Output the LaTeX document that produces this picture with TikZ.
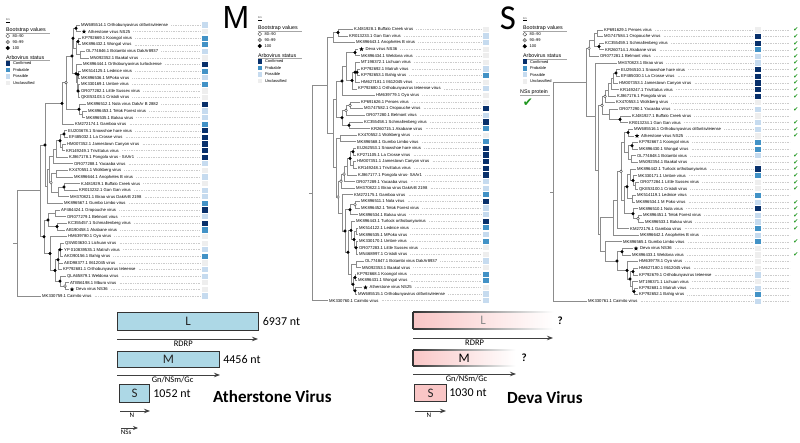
\documentclass[tikz,border=0pt]{standalone}
\usepackage{fontspec}
\setmainfont{Liberation Sans}
\newfontfamily\calfont{Carlito}
\newfontfamily\symfont{DejaVu Sans}
\usetikzlibrary{calc,positioning,shapes.geometric,arrows.meta}
\definecolor{confd}{HTML}{08306B}
\definecolor{probd}{HTML}{4292C6}
\definecolor{possd}{HTML}{C6DBEF}
\definecolor{uncld}{HTML}{EEEEEE}
\definecolor{branchgray}{HTML}{8C8C8C}
\definecolor{segblue}{HTML}{ADD8E6}
\definecolor{segpink}{HTML}{F9C6C6}
\definecolor{tickgreen}{HTML}{1E961E}
\tikzset{
  br/.style={draw=branchgray, line width=0.75pt},
  lab/.style={anchor=west, inner sep=0pt, font=\fontsize{4.2}{4.2}\selectfont},
  sq/.style={minimum size=5.2pt, inner sep=0pt, draw=none},
  lead/.style={draw=gray!40, line width=0.5pt, dash pattern=on 0.4pt off 1.3pt},
  bs100/.style={circle, fill=black, draw=black, minimum size=2.8pt, inner sep=0pt, line width=0.3pt},
  bs95/.style={circle, fill=gray!70, draw=gray!80!black, minimum size=2.8pt, inner sep=0pt, line width=0.3pt},
  bs85/.style={circle, fill=white, draw=gray!60!black, minimum size=2.8pt, inner sep=0pt, line width=0.4pt},
  starmk/.style={star, star points=5, star point ratio=2.3, fill=black, minimum size=4.6pt, inner sep=0pt},
  legt/.style={anchor=west, inner sep=0pt, font=\fontsize{5.3}{5.3}\selectfont},
  legs/.style={anchor=west, inner sep=0pt, font=\fontsize{4}{4}\selectfont},
  legrule/.style={draw=gray!70, line width=0.4pt},
  tick/.style={inner sep=0pt, text=tickgreen, font=\symfont\fontsize{6}{6}\selectfont},
  segA/.style={draw=black!80, line width=1.1pt, fill=segblue, inner sep=0pt, anchor=north west, font=\calfont\fontsize{13}{13}\selectfont, text=black!85},
  segD/.style={draw=none, left color=segpink, right color=white, inner sep=0pt, anchor=north west, font=\calfont\fontsize{13}{13}\selectfont},
  ntlab/.style={anchor=west, inner sep=0pt, font=\calfont\fontsize{12}{12}\selectfont},
  orf/.style={draw=black!75, line width=0.9pt, -{Stealth[length=6pt,width=4.5pt]}},
  orflab/.style={below=1.2pt, inner sep=0pt, font=\calfont\fontsize{8.5}{8.5}\selectfont},
  virlab/.style={anchor=west, inner sep=0pt, font=\calfont\bfseries\fontsize{17}{17}\selectfont}
}
% clade: name, x, first child, last child
\newcommand\clade[4]{%
  \path let \p1=($(#3)!.5!(#4)$) in coordinate (#1) at (#2pt,\y1);
  \draw[br] (#1) |- (#3);
  \draw[br] (#1) |- (#4);}

\begin{document}
\begin{tikzpicture}[x=1pt, y=-1pt]
\fill[white] (0,0) rectangle (800,443);
\useasboundingbox (0,0) rectangle (800,443);

% legends
\foreach \lx/\ly/\ln in {6/30/la,258/28/lb,523/28.3/lc}{
  \begin{scope}[shift={(\lx,\ly)}]
    \node[inner sep=0pt, anchor=west, font=\fontsize{2.6}{2.6}\selectfont] (\ln sc) at (0,-10) {0.1};
    \draw[line width=0.3pt] (0,-8) -- (3.5,-8);
    \node[legt] (\ln h1) at (0,0) {Bootstrap values};
    \draw[legrule] (0,3) -- (44,3);
    \node[bs85, minimum size=3.8pt] (\ln c1) at (1.8,6) {};
    \node[bs95, minimum size=3.8pt] (\ln c2) at (1.8,12) {};
    \node[bs100, minimum size=3.8pt] (\ln c3) at (1.8,18) {};
    \node[legs, right=2.5pt of \ln c1] (\ln c1t) {80--90};
    \node[legs, right=2.5pt of \ln c2] (\ln c2t) {90--99};
    \node[legs, right=2.5pt of \ln c3] (\ln c3t) {100};
    \node[legt] (\ln h2) at (0,27.5) {Arbovirus status};
    \draw[legrule] (0,30.5) -- (44,30.5);
    \foreach \k/\st/\tx in {0/confd/Confirmed,1/probd/Probable,2/possd/Possible,3/uncld/Unclassified}{
      \node[sq, minimum size=4.6pt, fill=\st] (\ln q\k) at (1.8,{33.5+6.5*\k}) {};
      \node[legs, right=2.5pt of \ln q\k] (\ln q\k t) {\tx};
    }
  \end{scope}
}
\node[legt] (nssh) at (520,92.5) {NSs protein};
\draw[legrule] (520,95.5) -- (550,95.5);
\node[inner sep=0pt, text=tickgreen, font=\symfont\fontsize{12}{12}\selectfont] (nssk) at (528,103) {✔};

\node[inner sep=0pt, font=\fontsize{32}{32}\selectfont] (bigM) at (236,17) {M};
\node[inner sep=0pt, font=\calfont\fontsize{35}{35}\selectfont] (bigS) at (508,18) {S};

% M tree
\foreach \i/\xx/\tx/\st in {
  1/79.5/{MW685514.1 Orthobunyavirus olifantsvleiense}/possd,
  2/80.5/{\hspace*{6pt}Atherstone virus NS25}/uncld,
  3/80.5/{KP792669.1 Koongol virus}/probd,
  4/80.5/{MK896432.1 Wongal virus}/probd,
  5/84.5/{OL774846.1 Botambi virus DakAr8937}/possd,
  6/88.5/{MN092352.1 Baakal virus}/uncld,
  7/81.5/{MK896444.1 Orthobunyavirus turlockense}/confd,
  8/80.5/{MK514125.1 Lednice virus}/probd,
  9/79.5/{MK896536.1 MPoko virus}/possd,
  10/79.5/{MK330169.1 Umbre virus}/probd,
  11/79.5/{OR077282.1 Little Sussex virus}/uncld,
  12/79.5/{QKE53103.1 Cristoli virus}/uncld,
  13/85.5/{MK896512.1 Nola virus DakAr B 2882}/confd,
  14/86.5/{MK896453.1 Telok Forest virus}/possd,
  15/84.5/{MK896535.1 Bakau virus}/possd,
  16/73.5/{KM272174.1 Gamboa virus}/probd,
  17/66.5/{EU203678.1 Snowshoe hare virus}/confd,
  18/67.5/{EF485032.1 La Crosse virus}/confd,
  19/65.5/{HM007352.1 Jamestown Canyon virus}/confd,
  20/64.5/{KR149249.1 Trivittatus virus}/confd,
  21/67.5/{KJ867178.1 Pongola virus - SAAr1}/confd,
  22/72.5/{OR077288.1 Yacaaba virus}/possd,
  23/67.5/{KX470551.1 Wolkberg virus}/uncld,
  24/72.5/{MK896644.1 Anopheles B virus}/possd,
  25/79.5/{KJ481929.1 Buffalo Creek virus}/uncld,
  26/77.5/{KR013232.1 Gan Gan virus}/possd,
  27/68.5/{MH370821.1 Birao virus DakArB 2198}/possd,
  28/62.5/{MK896567.1 Gumbo Limbo virus}/probd,
  29/59.5/{AF484424.1 Oropouche virus}/confd,
  30/65.5/{OR077279.1 Belmont virus}/possd,
  31/66.5/{KC355457.1 Schmallenberg virus}/confd,
  32/64.5/{AB190458.1 Akabane virus}/probd,
  33/66.5/{HM639780.1 Oyo virus}/uncld,
  34/63.5/{QSW03630.1 Lichuan virus}/uncld,
  35/62.5/{YP 010839535.1 Matruh virus}/possd,
  36/62.5/{AKO90156.1 Bahig virus}/probd,
  37/62.5/{AED98377.1 Il612045 virus}/uncld,
  38/61.5/{KP792681.1 Orthobunyavirus teteense}/possd,
  39/65.5/{QLA65879.1 Weldona virus}/possd,
  40/68.5/{ATB56198.1 Mburo virus}/uncld,
  41/68.5/{\hspace*{6pt}Deva virus NS36}/uncld,
  42/40.5/{MK330759.1 Caimito virus}/possd}{
  \pgfmathsetmacro\yy{25+6.61*(\i-1)}
  \coordinate (a\i) at (\xx,\yy);
  \node[lab, right=1.5pt of a\i] (a\i t) {\tx};
  \node[sq, fill=\st] (a\i q) at (205,\yy) {};
  \draw[lead] ([xshift=3pt]a\i t.east) -- ([xshift=-2pt]a\i q.west);
}
\clade{an1}{76}{a1}{a2}
\clade{an2}{78}{a3}{a4}
\clade{an3}{80}{a5}{a6}
\clade{an4}{76}{an2}{an3}
\clade{an5}{73}{an1}{an4}
\clade{an6}{78}{a8}{a9}
\clade{an7}{78}{a10}{a12}
\draw[br] (an7) |- (a11);
\clade{an8}{77}{an6}{an7}
\clade{an9}{76}{a7}{an8}
\clade{an10}{72}{an5}{an9}
\clade{an11}{82}{a14}{a15}
\clade{an12}{79}{a13}{an11}
\clade{an13}{66}{an10}{an12}
\clade{an14}{62}{an13}{a16}
\clade{an15}{64}{a17}{a18}
\clade{an16}{62}{a19}{a20}
\clade{an17}{60}{an15}{an16}
\clade{an18}{56}{an17}{a21}
\clade{an19}{53}{an18}{a22}
\clade{an20}{56}{a23}{a24}
\clade{an21}{64}{a25}{a26}
\clade{an22}{58}{an21}{a27}
\clade{an23}{51}{an20}{an22}
\clade{an24}{49}{an19}{an23}
\clade{an25}{47}{an24}{a28}
\clade{an26}{45}{an14}{an25}
\clade{an27}{55}{a29}{a30}
\clade{an28}{57}{a31}{a32}
\clade{an29}{48}{an27}{an28}
\clade{an30}{60}{a34}{a36}
\draw[br] (an30) |- (a35);
\clade{an31}{58}{an30}{a38}
\draw[br] (an31) |- (a37);
\clade{an32}{65}{a40}{a41}
\clade{an33}{60}{a39}{an32}
\clade{an34}{55}{an31}{an33}
\clade{an35}{50}{a33}{an34}
\clade{an36}{44}{an29}{an35}
\clade{an37}{40}{an26}{an36}
\clade{an38}{17}{an37}{a42}
\draw[br] (an38) -- ++(-4,0);

% S tree
\foreach \i/\xx/\tx/\st in {
  1/352.5/{KJ481928.1 Buffalo Creek virus}/uncld,
  2/347.5/{KR013233.1 Gan Gan virus}/possd,
  3/354.5/{MK896643.1 Anopheles B virus}/possd,
  4/358/{\hspace*{6pt}Deva virus NS36}/uncld,
  5/359.5/{MK896434.1 Weldona virus}/uncld,
  6/359.5/{MT198372.1 Lichuan virus}/uncld,
  7/359.5/{KP792692.1 Matruh virus}/possd,
  8/359.5/{KP792653.1 Bahig virus}/probd,
  9/359.5/{HM627181.1 Il612045 virus}/uncld,
  10/356.5/{KP792680.1 Orthobunyavirus teteense virus}/possd,
  11/374.5/{HM639779.1 Oyo virus}/uncld,
  12/359.5/{KP691626.1 Peroes virus}/uncld,
  13/362.5/{MG747582.1 Oropouche virus}/confd,
  14/364.5/{OR077280.1 Belmont virus}/possd,
  15/362.5/{KC355458.1 Schmallenberg virus}/confd,
  16/369.5/{KR260715.1 Akabane virus}/probd,
  17/356.5/{KX470552.1 Wolkberg virus}/uncld,
  18/355.5/{MK896568.1 Gumbo Limbo virus}/probd,
  19/355.5/{EU262553.1 Snowshoe hare virus}/confd,
  20/355.5/{KP271105.1 La Crosse virus}/confd,
  21/355.5/{HM007351.1 Jamestown Canyon virus}/confd,
  22/356.5/{KR149248.1 Trivittatus virus}/confd,
  23/356.5/{KJ867177.1 Pongola virus- SAAr1}/confd,
  24/354.5/{OR077289.1 Yacaaba virus}/possd,
  25/354.5/{MH370822.1 Birao virus DakArB 2198}/possd,
  26/352.5/{KM272175.1 Gamboa virus}/probd,
  27/359.5/{MK896511.1 Nola virus}/confd,
  28/359.5/{MK896452.1 Telok Forest virus}/possd,
  29/357.5/{MK896534.1 Bakau virus}/possd,
  30/354.5/{MK896443.1 Turlock orthobunyavirus}/confd,
  31/357.5/{MK514122.1 Lednice virus}/probd,
  32/357.5/{MK896535.1 MPoko virus}/possd,
  33/357.5/{MK330170.1 Umbre virus}/probd,
  34/357.5/{OR077283.1 Little Sussex virus}/uncld,
  35/357.5/{MN468997.1 Cristoli virus}/uncld,
  36/363.5/{OL774847.1 Botambi virus DakAr8937}/possd,
  37/360.5/{MN092353.1 Baakal virus}/uncld,
  38/355.5/{KP792668.1 Koongol virus}/probd,
  39/356.5/{MK896431.1 Wongal virus}/probd,
  40/362/{\hspace*{6pt}Atherstone virus NS25}/uncld,
  41/356.5/{MW685515.1 Orthobunyavirus olifantsvleiense}/possd,
  42/327.5/{MK330760.1 Caimito virus}/possd}{
  \pgfmathsetmacro\yy{29.3+6.62*(\i-1)}
  \coordinate (b\i) at (\xx,\yy);
  \node[lab, right=1.5pt of b\i] (b\i t) {\tx};
  \node[sq, fill=\st] (b\i q) at (486,\yy) {};
  \draw[lead] ([xshift=3pt]b\i t.east) -- ([xshift=-2pt]b\i q.west);
}
\clade{bn1}{338}{b1}{b2}
\clade{bn2}{333}{bn1}{b3}
\clade{bn3}{355}{b4}{b5}
\clade{bn4}{357}{b7}{b8}
\clade{bn5}{355}{b6}{b9}
\draw[br] (bn5) |- (bn4);
\clade{bn6}{352}{bn5}{b10}
\clade{bn7}{346}{bn3}{bn6}
\clade{bn8}{342}{bn7}{b11}
\clade{bn9}{350}{b12}{b13}
\clade{bn10}{346}{bn9}{b14}
\clade{bn11}{349}{b15}{b16}
\clade{bn12}{342}{bn10}{bn11}
\clade{bn13}{336}{bn8}{bn12}
\clade{bn14}{340}{b17}{b18}
\clade{bn15}{353}{b19}{b20}
\clade{bn16}{353}{b21}{b22}
\clade{bn17}{350}{bn15}{bn16}
\clade{bn18}{347}{bn17}{b23}
\clade{bn19}{344}{bn18}{b24}
\clade{bn20}{341}{bn19}{b25}
\clade{bn21}{355}{b27}{b28}
\clade{bn22}{350}{bn21}{b29}
\clade{bn23}{356}{b31}{b32}
\clade{bn24}{356}{b33}{b35}
\draw[br] (bn24) |- (b34);
\clade{bn25}{354}{bn23}{bn24}
\clade{bn26}{351}{b30}{bn25}
\clade{bn27}{356}{b36}{b37}
\clade{bn28}{355}{b38}{b39}
\clade{bn29}{355}{b40}{b41}
\clade{bn30}{353}{bn28}{bn29}
\clade{bn31}{351}{bn27}{bn30}
\clade{bn32}{348}{bn26}{bn31}
\clade{bn33}{345}{bn22}{bn32}
\clade{bn34}{342}{b26}{bn33}
\clade{bn35}{338}{bn20}{bn34}
\clade{bn36}{336}{bn14}{bn35}
\clade{bn37}{333}{bn13}{bn36}
\clade{bn38}{327}{bn2}{bn37}
\clade{bn39}{312}{bn38}{b42}
\draw[br] (bn39) -- ++(-3.5,0);

% S tree with NSs column
\foreach \i/\xx/\tx/\st in {
  1/602.5/{KP691629.1 Peroes virus}/uncld,
  2/602.5/{MG747584.1 Oropouche virus}/confd,
  3/603.5/{KC355459.1 Schmallenberg virus}/confd,
  4/603.5/{KR260714.1 Akabane virus}/probd,
  5/598.5/{OR077281.1 Belmont virus}/possd,
  6/616.5/{MH370823.1 Birao virus}/possd,
  7/619.5/{EU294510.1 Snowshoe hare virus}/confd,
  8/619.5/{EF485030.1 La Crosse virus}/confd,
  9/617.5/{HM007353.1 Jamestown Canyon virus}/confd,
  10/618.5/{KR149247.1 Trivittatus virus}/confd,
  11/615.5/{KJ867176.1 Pongola virus}/confd,
  12/614.5/{KX470553.1 Wolkberg virus}/uncld,
  13/617.5/{OR077290.1 Yacaaba virus}/possd,
  14/630.5/{KJ481927.1 Buffalo Creek virus}/uncld,
  15/627.5/{KR013234.1 Gan Gan virus}/possd,
  16/632.5/{MW685516.1 Orthobunyavirus olifantsvleiense}/possd,
  17/633.5/{\hspace*{6pt}Atherstone virus NS25}/uncld,
  18/637.5/{KP792667.1 Koongol virus}/probd,
  19/637.5/{MK896430.1 Wongal virus}/probd,
  20/635.5/{OL774848.1 Botambi virus}/possd,
  21/637.5/{MN092354.1 Baakal virus}/uncld,
  22/635.5/{MK896442.1 Turlock orthobunyavirus}/confd,
  23/636.5/{MK330171.1 Umbre virus}/probd,
  24/638.5/{OR077284.1 Little Sussex virus}/uncld,
  25/637.5/{QKE53100.1 Cristoli virus}/uncld,
  26/635.5/{MK514119.1 Lednice virus}/probd,
  27/634.5/{MK896534.1 M Poko virus}/possd,
  28/637.5/{MK896510.1 Nola virus}/confd,
  29/641.5/{MK896451.1 Telok Forest virus}/possd,
  30/643.5/{MK896533.1 Bakau virus}/possd,
  31/628.5/{KM272176.1 Gamboa virus}/probd,
  32/638.5/{MK896642.1 Anopheles B virus}/possd,
  33/621.5/{MK896565.1 Gumbo Limbo virus}/probd,
  34/632.5/{\hspace*{6pt}Deva virus NS36}/uncld,
  35/630.5/{MK896433.1 Weldona virus}/uncld,
  36/637.5/{HM639778.1 Oyo virus}/uncld,
  37/637.5/{HM627180.1 Il612045 virus}/uncld,
  38/637.5/{KP792679.1 Orthobunyavirus teteense}/possd,
  39/637.5/{MT198371.1 Lichuan virus}/uncld,
  40/637.5/{KP792681.1 Matruh virus}/possd,
  41/637.5/{KP792652.1 Bahig virus}/probd,
  42/586.5/{MK330761.1 Caimito virus}/possd}{
  \pgfmathsetmacro\yy{30+6.62*(\i-1)}
  \coordinate (c\i) at (\xx,\yy);
  \node[lab, right=1.5pt of c\i] (c\i t) {\tx};
  \node[sq, fill=\st] (c\i q) at (758,\yy) {};
  \coordinate (c\i e) at (790,\yy);
  \draw[lead] ([xshift=3pt]c\i t.east) -- ([xshift=-2pt]c\i q.west);
  \draw[lead] ([xshift=2pt]c\i q.east) -- (c\i e);
}
\foreach \i in {1,2,3,4,5,6,7,8,9,10,11,13,15,16,17,20,21,22,23,24,25,27,28,29,30,31,33,35}
  \node[tick] (c\i k) at (796,{30+6.62*(\i-1)}) {✔};
\clade{cn1}{597}{c1}{c2}
\clade{cn2}{599}{c3}{c4}
\clade{cn3}{594}{cn1}{cn2}
\clade{cn4}{589}{cn3}{c5}
\clade{cn5}{616}{c7}{c8}
\clade{cn6}{613}{cn5}{c9}
\clade{cn7}{611}{cn6}{c10}
\clade{cn8}{608}{cn7}{c11}
\clade{cn9}{605}{cn8}{c12}
\clade{cn10}{620}{c14}{c15}
\clade{cn11}{609}{c13}{cn10}
\clade{cn12}{602}{cn9}{cn11}
\clade{cn13}{628}{c16}{c17}
\clade{cn14}{632}{c18}{c19}
\clade{cn15}{631}{c20}{c21}
\clade{cn16}{628}{cn14}{cn15}
\clade{cn17}{624}{cn13}{cn16}
\clade{cn18}{635}{c24}{c25}
\clade{cn19}{633}{c23}{cn18}
\clade{cn20}{630}{c22}{cn19}
\clade{cn21}{632}{c26}{c27}
\clade{cn22}{627}{cn20}{cn21}
\clade{cn23}{638}{c29}{c30}
\clade{cn24}{633}{c28}{cn23}
\clade{cn25}{624}{cn22}{cn24}
\clade{cn26}{621}{cn17}{cn25}
\clade{cn27}{617}{cn26}{c31}
\clade{cn28}{613}{cn27}{c32}
\clade{cn29}{622}{c34}{c35}
\clade{cn30}{633}{c37}{c38}
\clade{cn31}{634}{c40}{c41}
\clade{cn32}{632}{c39}{cn31}
\clade{cn33}{630}{cn30}{cn32}
\clade{cn34}{627}{c36}{cn33}
\clade{cn35}{617}{cn29}{cn34}
\clade{cn36}{605}{c33}{cn35}
\clade{cn37}{600}{cn28}{cn36}
\clade{cn38}{598}{cn12}{cn37}
\clade{cn39}{595}{c6}{cn38}
\clade{cn40}{586}{cn4}{cn39}
\clade{cn41}{553}{cn40}{c42}
\draw[br] (cn41) -- ++(-3,0);

% stars and support values
\foreach \n in {a2,a41,b4,b40,c17,c34}
  \node[starmk] (\n s) at ([xshift=3.5pt]\n) {};
\foreach \m/\n in {bs100/an1,bs100/an2,bs100/an5,bs100/an6,bs100/an7,bs100/an9,bs100/an10,
  bs100/an12,bs85/an13,bs100/an14,bs100/an15,bs100/an17,bs100/an21,bs85/an23,bs100/an26,
  bs100/an28,bs100/an29,bs100/an30,bs100/an31,bs85/an32,bs100/an33,bs100/an34,bs100/an35,bs100/an36,
  bs100/bn1,bs100/bn3,bs100/bn4,bs100/bn5,bs100/bn6,bs100/bn8,bs85/bn9,bs85/bn10,bs100/bn11,
  bs100/bn12,bs100/bn15,bs100/bn17,bs85/bn19,bs85/bn20,bs85/bn21,bs100/bn22,bs100/bn24,
  bs100/bn25,bs100/bn26,bs100/bn28,bs100/bn29,bs100/bn30,bs100/bn32,bs100/bn33,bs85/bn35,
  bs100/cn2,bs85/cn4,bs100/cn5,bs85/cn9,bs100/cn10,bs85/cn12,bs100/cn13,bs100/cn14,bs100/cn19,
  bs100/cn22,bs100/cn24,bs85/cn23,bs85/cn26,bs100/cn29,bs100/cn30,bs100/cn31,bs100/cn33,
  bs100/cn34,bs100/cn35}
  \node[\m] (\n b) at (\n) {};

% Atherstone virus genome
\node[segA, minimum width=141pt, minimum height=18pt] (atL) at (117,312) {L};
\node[ntlab, right=3.5pt of atL] (atLn) {6937 nt};
\coordinate (atLa) at (117,339);
\coordinate (atLb) at (258,339);
\draw[orf] (atLa) -- (atLb) node[orflab, pos=0.47] (atLr) {RDRP};
\node[segA, minimum width=102pt, minimum height=16pt] (atM) at (117,351) {M};
\node[ntlab, right=3pt of atM] (atMn) {4456 nt};
\coordinate (atMa) at (117,375);
\coordinate (atMb) at (220,375);
\draw[orf] (atMa) -- (atMb) node[orflab, pos=0.54] (atMr) {Gn/NSm/Gc};
\node[segA, minimum width=30pt, minimum height=18pt] (atS) at (119,384) {S};
\node[ntlab, right=3pt of atS] (atSn) {1052 nt};
\coordinate (atNa) at (120,411);
\coordinate (atNb) at (150,411);
\draw[orf] (atNa) -- (atNb) node[orflab, pos=0.4, font=\calfont\fontsize{7}{7}\selectfont] (atNr) {N};
\coordinate (atNSa) at (121,428);
\coordinate (atNSb) at (138,428);
\draw[orf, -{Stealth[length=5pt,width=4pt]}] (atNSa) -- (atNSb) node[orflab, pos=0.3, font=\calfont\fontsize{7}{7}\selectfont] (atNSr) {NSs};
\node[virlab] (atName) at (213,397) {Atherstone Virus};

% Deva virus genome
\node[segD, minimum width=140pt, minimum height=17pt, text=black!45] (dvL) at (413,312) {L};
\draw[black!80, line width=1.1pt] (dvL.north west) -- (dvL.south west);
\shade[left color=black!80, right color=white] ([yshift=0.55pt]dvL.north west) rectangle ([yshift=-0.55pt]dvL.north east);
\shade[left color=black!80, right color=white] ([yshift=0.55pt]dvL.south west) rectangle ([yshift=-0.55pt]dvL.south east);
\node[ntlab, font=\calfont\bfseries\fontsize{11}{11}\selectfont, right=4pt of dvL] (dvLq) {?};
\coordinate (dvLa) at (413,338);
\coordinate (dvLb) at (553,338);
\draw[orf] (dvLa) -- (dvLb) node[orflab, pos=0.44] (dvLr) {RDRP};
\node[segD, minimum width=102pt, minimum height=16pt, text=black] (dvM) at (413,350) {M};
\draw[black!80, line width=1.1pt] (dvM.north west) -- (dvM.south west);
\shade[left color=black!80, right color=white] ([yshift=0.55pt]dvM.north west) rectangle ([yshift=-0.55pt]dvM.north east);
\shade[left color=black!80, right color=white] ([yshift=0.55pt]dvM.south west) rectangle ([yshift=-0.55pt]dvM.south east);
\node[ntlab, font=\calfont\bfseries\fontsize{11}{11}\selectfont, right=6pt of dvM] (dvMq) {?};
\coordinate (dvMa) at (413,374);
\coordinate (dvMb) at (516,374);
\draw[orf] (dvMa) -- (dvMb) node[orflab, pos=0.52] (dvMr) {Gn/NSm/Gc};
\node[segA, fill=segpink, minimum width=32pt, minimum height=17pt] (dvS) at (414,384) {S};
\node[ntlab, right=2pt of dvS] (dvSn) {1030 nt};
\coordinate (dvNa) at (415,411);
\coordinate (dvNb) at (446,411);
\draw[orf] (dvNa) -- (dvNb) node[orflab, pos=0.45, font=\calfont\fontsize{7}{7}\selectfont] (dvNr) {N};
\node[virlab] (dvName) at (507,398) {Deva Virus};
\end{tikzpicture}
\end{document}
